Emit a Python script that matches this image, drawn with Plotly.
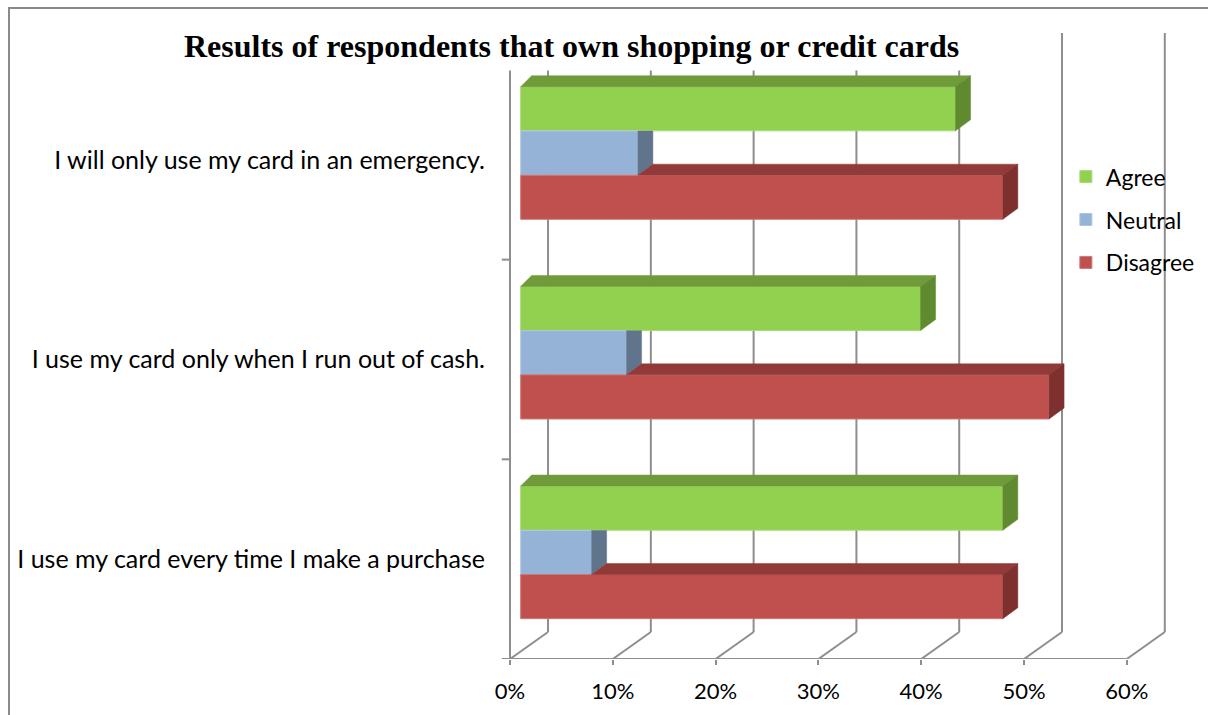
import plotly.graph_objects as go

# ---- data -------------------------------------------------------------
categories = [
    "I use my card every time I make a purchase",
    "I use my card only when I run out of cash.",
    "I will only use my card in an emergency.",
]
agree = [46.9, 38.9, 42.3]
neutral = [6.9, 10.3, 11.4]
disagree = [46.9, 51.4, 46.9]
series_names = ["Agree", "Neutral", "Disagree"]
x_ticks = [0, 10, 20, 30, 40, 50, 60]
x_tick_labels = [f"{t}%" for t in x_ticks]

series_values = {"Agree": agree, "Neutral": neutral, "Disagree": disagree}

# ---- colours: front face, top face, side face, edge --------------------
FRONT = {"Agree": "#92D050", "Neutral": "#95B3D7", "Disagree": "#C0504D"}
TOP = {"Agree": "#709B3B", "Neutral": "#71869F", "Disagree": "#923A38"}
SIDE = {"Agree": "#608A30", "Neutral": "#60748C", "Disagree": "#7D302E"}
EDGE = {"Agree": "#A9DA78", "Neutral": "#AFC6E1", "Disagree": "#CD7876"}
GRID = "#8E8E8E"

# ---- pseudo-3D geometry (axis units) -----------------------------------
BAR_BASE = 1.04      # bars stand a little behind the front floor edge
SIDE_DX = 1.46       # receding depth of a bar, horizontal part
LEFT_DX = 1.07       # bevelled left corner of the top face
FACE_DY = 0.055      # receding depth of a bar, vertical part
WALL_DX = 3.70       # floor depth, horizontal part
WALL_DY = 0.135      # floor depth, vertical part
BAR_W = 0.221
OFFSETS = {"Agree": 0.145, "Neutral": -0.077, "Disagree": -0.298}
X_RANGE = [-1.362, 64.40]
Y_RANGE = [-0.5, 2.650]
FRONT_TOP = 2.5
FLOOR = -0.5

fig = go.Figure()

# front faces of the bars
for name in series_names:
    fig.add_trace(go.Bar(
        name=name,
        orientation="h",
        y=list(range(len(categories))),
        x=series_values[name],
        base=BAR_BASE,
        width=BAR_W,
        offset=OFFSETS[name],
        marker=dict(color=FRONT[name], line=dict(color=EDGE[name], width=1)),
        legendgroup=name,
        hovertemplate="%{x:.1f}%<extra>" + name + "</extra>",
    ))


def face(pts, color):
    # drop repeated corners so no zero-width slivers get stroked
    clean = []
    for p in pts:
        if not clean or abs(p[0] - clean[-1][0]) > 1e-9 or abs(p[1] - clean[-1][1]) > 1e-9:
            clean.append(p)
    clean.append(clean[0])
    fig.add_trace(go.Scatter(
        x=[p[0] for p in clean], y=[p[1] for p in clean],
        fill="toself", fillcolor=color, mode="lines",
        line=dict(color=color, width=0.5), showlegend=False, hoverinfo="skip",
    ))


# visible top and side faces, painted group by group
for i in range(len(categories)):
    above_val = 0.0
    for name in series_names:
        v = series_values[name][i]
        b = i + OFFSETS[name]
        t = b + BAR_W
        x0 = BAR_BASE
        # top face: visible where the bar above does not reach
        if v > above_val:
            s = above_val
            ldx = LEFT_DX if s == 0 else SIDE_DX
            face([(x0 + s, t), (x0 + v, t), (x0 + v + SIDE_DX, t + FACE_DY),
                  (x0 + s + ldx, t + FACE_DY)], TOP[name])
        # side face, clipped by the front of the bar above
        if above_val >= v + SIDE_DX:
            pts = [(x0 + v, b), (x0 + v, t), (x0 + v + SIDE_DX, t),
                   (x0 + v + SIDE_DX, b + FACE_DY)]
        elif above_val <= v:
            pts = [(x0 + v, b), (x0 + v, t), (x0 + v + SIDE_DX, t + FACE_DY),
                   (x0 + v + SIDE_DX, b + FACE_DY)]
        else:
            va = above_val
            yc = t + FACE_DY * (va - v) / SIDE_DX
            pts = [(x0 + v, b), (x0 + v, t), (x0 + va, t), (x0 + va, yc),
                   (x0 + v + SIDE_DX, t + FACE_DY), (x0 + v + SIDE_DX, b + FACE_DY)]
        face(pts, SIDE[name])
        above_val = v

# walls, floor and axes
shapes = []
line = dict(color=GRID, width=2)
for t in x_ticks:
    # back wall gridline
    shapes.append(dict(type="line", xref="x", yref="y", layer="below",
                       x0=t + WALL_DX, x1=t + WALL_DX,
                       y0=FLOOR + WALL_DY, y1=FRONT_TOP + WALL_DY, line=line))
    # floor diagonal
    shapes.append(dict(type="line", xref="x", yref="y", layer="below",
                       x0=t, x1=t + WALL_DX, y0=FLOOR, y1=FLOOR + WALL_DY, line=line))
# front floor edge
shapes.append(dict(type="line", xref="x", yref="y", layer="below",
                   x0=x_ticks[0], x1=x_ticks[-1], y0=FLOOR, y1=FLOOR, line=line))
# vertical (category) axis with tick marks between categories
shapes.append(dict(type="line", xref="x", yref="y", layer="below",
                   x0=0, x1=0, y0=FLOOR, y1=FRONT_TOP, line=line))
for k in range(len(categories) + 1):
    yk = FLOOR + k
    shapes.append(dict(type="line", xref="x", yref="y", layer="below",
                       x0=-0.8, x1=0, y0=yk, y1=yk, line=line))
# outer frame
shapes.append(dict(type="rect", xref="paper", yref="paper",
                   x0=-0.7204, x1=1.2, y0=-0.2, y1=1.0350,
                   line=dict(color="#8A8A8A", width=2), fillcolor="rgba(0,0,0,0)"))

fig.update_layout(
    width=1208, height=715,
    margin=dict(l=496, r=36, t=30, b=56, autoexpand=False),
    paper_bgcolor="white", plot_bgcolor="white",
    barmode="overlay",
    shapes=shapes,
    showlegend=True,
    legend=dict(x=0.843, y=0.801, xanchor="left", yanchor="top",
                font=dict(family="Lato", size=23, color="black"),
                tracegroupgap=10, bgcolor="rgba(0,0,0,0)"),
    xaxis=dict(range=X_RANGE, tickvals=x_ticks, ticktext=x_tick_labels,
               ticks="outside", ticklen=5, tickwidth=2, tickcolor=GRID,
               showgrid=False, zeroline=False, showline=False,
               tickfont=dict(family="Lato", size=22, color="black"),
               ticklabelstandoff=8, automargin=False, fixedrange=True),
    yaxis=dict(range=Y_RANGE, tickvals=list(range(len(categories))),
               ticktext=categories, ticks="", showgrid=False, zeroline=False,
               showline=False, tickfont=dict(family="Lato", size=25, color="black"),
               ticklabelstandoff=10, automargin=False, fixedrange=True),
    annotations=[dict(
        text="Results of respondents that own shopping or credit cards",
        xref="paper", yref="paper", x=0.1117, y=0.9746,
        xanchor="center", yanchor="middle", showarrow=False,
        font=dict(family="Liberation Serif", size=32, color="black", weight="bold"),
        bgcolor="white", borderpad=6,
    )],
)

fig.write_html("out.html")
